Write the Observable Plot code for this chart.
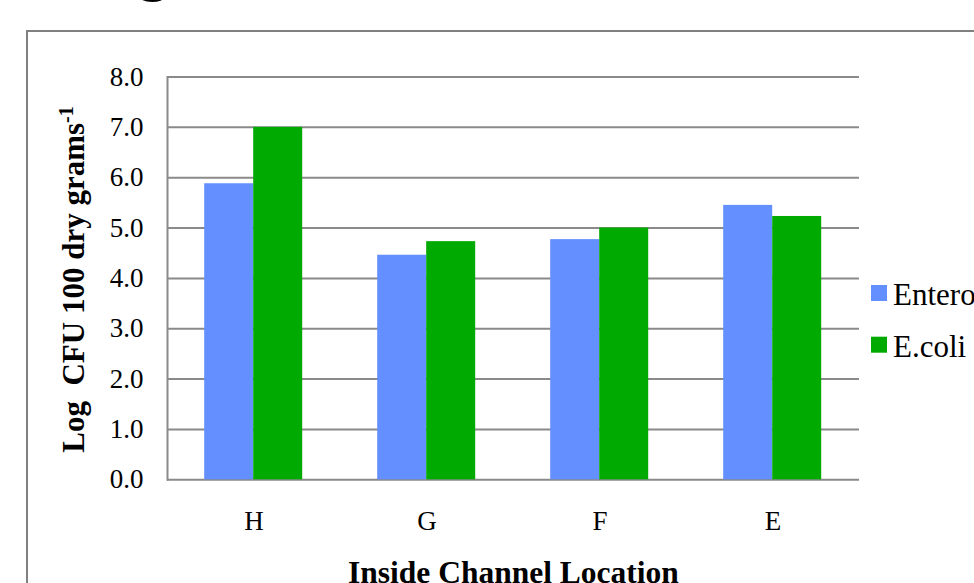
<!DOCTYPE html>
<html>
<head>
<meta charset="utf-8">
<script src="https://cdn.jsdelivr.net/npm/d3@7"></script>
<script src="https://cdn.jsdelivr.net/npm/@observablehq/plot@0.6"></script>
<style>
  html, body { margin: 0; padding: 0; background: #fff; overflow: hidden; }
  #chart {
    position: relative; width: 974px; height: 583px; overflow: hidden;
    font-family: "Liberation Serif", "Times New Roman", serif; color: #000;
  }
  #frame {
    position: absolute; left: 26px; top: 30px; width: 1200px; height: 800px;
    border: 2px solid #808080; box-sizing: border-box;
  }
  #heading {
    position: absolute; left: 138px; top: -61px;
    font-size: 60px; line-height: 1; font-weight: bold; white-space: nowrap;
  }
  #chart svg { position: absolute; left: 0; top: 0; }
</style>
</head>
<body>
<div id="chart">
  <div id="frame"></div>
  <div id="heading">g</div>
</div>
<script>
// Sampling locations along the channel and the two indicator organisms
const locations = ["H", "G", "F", "E"];
const series = ["Enterococci", "E.coli"];
// Log CFU per 100 dry grams at each location
const enterococci = [5.88, 4.46, 4.77, 5.45];
const ecoli = [7.00, 4.73, 5.00, 5.23];
const yTicks = [0, 1, 2, 3, 4, 5, 6, 7, 8];
const seriesColors = ["#638fff", "#00aa00"];
const yTitle = "Log  CFU 100 dry grams";
const yTitleSup = "-1";
const xTitle = "Inside Channel Location";

const serif = "'Liberation Serif', 'Times New Roman', serif";
const gridColor = "#8a8a8a";

const rows = locations.flatMap((loc, i) => [
  {location: loc, series: series[0], value: enterococci[i]},
  {location: loc, series: series[1], value: ecoli[i]}
]);

const W = 974, H = 583;
const margin = {left: 165.8, right: 113, top: 76.5, bottom: 103.7};

const plot = Plot.plot({
  width: W,
  height: H,
  marginLeft: margin.left,
  marginRight: margin.right,
  marginTop: margin.top,
  marginBottom: margin.bottom,
  style: {fontFamily: serif, fontSize: "27px", color: "#000", background: "transparent", overflow: "visible"},
  fx: {domain: locations, padding: 0, label: null},
  x: {domain: series, paddingInner: 0, paddingOuter: 0.75, axis: null},
  y: {domain: [0, 8], label: null},
  color: {domain: series, range: seriesColors},
  marks: [
    Plot.ruleY(yTicks, {stroke: gridColor, strokeWidth: 2}),
    Plot.barY(rows, {fx: "location", x: "series", y: "value", fill: "series"}),
    Plot.frame({anchor: "left", facetAnchor: "left", stroke: gridColor, strokeWidth: 2}),
    Plot.axisY(yTicks, {tickSize: 0, tickPadding: 24, tickFormat: d3.format(".1f"), label: null, fontSize: 27}),
    Plot.axisFx({anchor: "bottom", tickSize: 0, tickPadding: 31, label: null, fontSize: 27})
  ]
});

const svg = d3.select(plot);
const color = plot.scale("color");

// Rotated y-axis title with superscript exponent
const yt = svg.append("text")
  .attr("transform", "translate(84,279.5) rotate(-90)")
  .attr("text-anchor", "middle")
  .style("font-family", serif)
  .style("font-weight", "bold")
  .style("font-size", "31px")
  .style("white-space", "pre")
  .attr("fill", "#000");
yt.append("tspan").text(yTitle);
yt.append("tspan").attr("baseline-shift", "super").style("font-size", "20px").text(yTitleSup);

// x-axis title centred under the plotting area
svg.append("text")
  .attr("x", (margin.left + W - margin.right) / 2)
  .attr("y", 582.5)
  .attr("text-anchor", "middle")
  .style("font-family", serif)
  .style("font-weight", "bold")
  .style("font-size", "31.5px")
  .attr("fill", "#000")
  .text(xTitle);

// Legend to the right of the bars
const legend = svg.append("g").attr("text-anchor", "start");
series.forEach((s, i) => {
  const row = legend.append("g").attr("transform", `translate(871,${285 + i * 51.7})`);
  row.append("rect").attr("width", 16).attr("height", 16).attr("fill", color.apply(s));
  row.append("text").attr("x", 22).attr("y", 20).attr("text-anchor", "start")
    .style("font-family", serif).style("font-size", "31px").attr("fill", "#000").text(s);
});

document.getElementById("chart").appendChild(plot);
</script>
</body>
</html>
